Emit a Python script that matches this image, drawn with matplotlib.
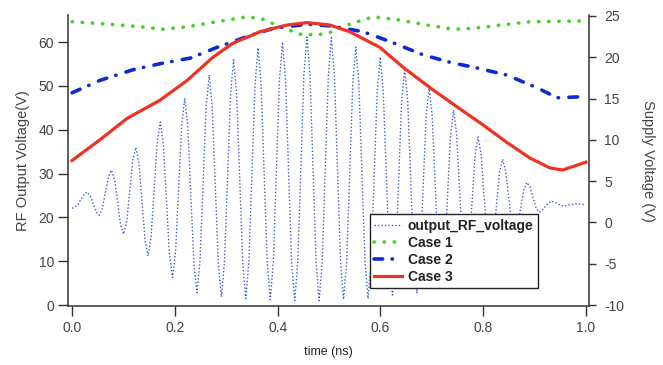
import numpy as np
import matplotlib
matplotlib.use("Agg")
import matplotlib.pyplot as plt

plt.rcParams["font.family"] = ["Liberation Sans", "DejaVu Sans"]
plt.rcParams["axes.unicode_minus"] = False

# RF output voltage (left axis), sampled waveform
rf_t_start = 0.0052
rf_dt = 0.005945
rf_v = [22.1,
        22.4, 22.9, 24.1, 25.3, 25.8, 25.0, 23.2, 21.3,
        20.5, 22.0, 25.7, 29.3, 30.8, 28.7, 23.5, 18.3,
        16.2, 19.1, 26.1, 33.1, 36.0, 32.4, 23.6, 14.8,
        11.2, 15.7, 26.5, 37.3, 41.8, 36.6, 24.1, 11.5,
        6.3, 12.3, 26.8, 41.2, 47.2, 40.7, 25.0, 9.3,
        2.8, 10.1, 27.7, 45.2, 52.5, 45.1, 27.2, 9.3,
        1.9, 9.8, 29.0, 48.1, 56.0, 48.0, 28.8, 9.5,
        1.5, 9.9, 30.1, 50.3, 58.7, 50.3, 30.0, 9.6,
        1.2, 9.8, 30.6, 51.4, 60.0, 51.4, 30.5, 9.6,
        1.0, 9.8, 31.1, 52.4, 61.2, 52.4, 31.1, 9.8,
        1.0, 9.8, 31.0, 52.2, 61.0, 52.3, 31.2, 10.0,
        1.3, 9.7, 30.1, 50.5, 58.9, 50.5, 30.2, 9.9,
        1.5, 9.5, 29.1, 48.6, 56.6, 48.7, 29.5, 10.2,
        2.3, 9.8, 28.2, 46.5, 54.0, 46.5, 28.4, 10.2,
        2.7, 9.6, 26.3, 42.9, 49.8, 43.2, 27.2, 11.1,
        4.5, 10.3, 24.5, 38.7, 44.5, 39.1, 26.0, 12.9,
        7.5, 12.0, 23.0, 33.9, 38.4, 34.5, 25.0, 15.4,
        11.5, 14.7, 22.4, 30.1, 33.3, 30.8, 24.9, 19.0,
        16.5, 18.2, 22.3, 26.3, 28.0, 27.0, 24.6, 22.2,
        21.2, 21.6, 22.5, 23.3, 23.7, 23.5, 23.2, 22.8,
        22.6, 22.7, 22.9, 23.0, 23.1, 23.1, 23.0, 22.9]
rf_t = np.concatenate([[0.0], rf_t_start + rf_dt * np.arange(len(rf_v) - 1)])

# supply voltage cases (right axis)
case1_t = [0, 0.074, 0.132, 0.177, 0.224, 0.282, 0.34, 0.372, 0.405, 0.444, 0.477,
           0.502, 0.535, 0.586, 0.638, 0.691, 0.741, 0.78, 0.833, 0.891, 1.0]
case1_v = [24.3, 24.0, 23.7, 23.4, 23.7, 24.3, 24.9, 24.6, 23.7, 22.8, 22.7,
           23.0, 23.9, 24.9, 24.5, 23.9, 23.4, 23.5, 23.9, 24.3, 24.4]

case2_t = [0, 0.054, 0.119, 0.177, 0.23, 0.282, 0.34, 0.391, 0.457, 0.502, 0.566,
           0.619, 0.683, 0.735, 0.788, 0.846, 0.905, 0.944, 0.984]
case2_v = [15.7, 17.2, 18.5, 19.3, 19.9, 21.2, 22.5, 23.5, 24.0, 23.8, 23.1,
           21.9, 20.3, 19.4, 18.7, 17.85, 16.3, 15.1, 15.2]

case3_t = [0, 0.054, 0.107, 0.171, 0.224, 0.274, 0.313, 0.366, 0.418, 0.457, 0.502,
           0.54, 0.599, 0.644, 0.697, 0.749, 0.80, 0.846, 0.891, 0.93, 0.955, 1.0]
case3_v = [7.5, 10.0, 12.6, 14.8, 17.2, 20.0, 21.7, 23.1, 23.9, 24.2, 23.9,
           23.1, 21.2, 18.8, 16.3, 14.0, 11.8, 9.7, 7.8, 6.6, 6.35, 7.3]

left_ticks = [0, 10, 20, 30, 40, 50, 60]
right_ticks = [-10, -5, 0, 5, 10, 15, 20, 25]
x_ticks = [0.0, 0.2, 0.4, 0.6, 0.8, 1.0]

spine_col = "#333333"
text_col = "#444444"

fig = plt.figure(figsize=(6.63, 3.65), dpi=100)
ax = fig.add_axes([68 / 663, 59 / 365, 521 / 663, 291 / 365])
ax2 = ax.twinx()

rf_line, = ax.plot(rf_t, rf_v, color="#3f55ee", lw=1.0, ls=(0, (1, 1.5)),
                   label="output_RF_voltage")
l1, = ax2.plot(case1_t, case1_v, color="#44d522", lw=2.6, ls=(0, (0.1, 2.7)),
               dash_capstyle="round", solid_capstyle="round", label="Case 1")
l2, = ax2.plot(case2_t, case2_v, color="#0c2bd6", lw=2.6, ls=(0, (2.4, 2.6, 0.1, 2.9)),
               dash_capstyle="round", label="Case 2")
l3, = ax2.plot(case3_t, case3_v, color="#ee3322", lw=2.3, label="Case 3")

ax.set_xlim(-0.008, 1.006)
ax.set_ylim(-0.2, 66.2)
ax2.set_ylim(-10.12, 25.12)

ax.set_xticks(x_ticks)
ax.set_xticklabels([f"{v:.1f}" for v in x_ticks])
ax.set_yticks(left_ticks)
ax2.set_yticks(right_ticks)

for a in (ax, ax2):
    a.spines["top"].set_visible(False)
    for s in a.spines.values():
        s.set_color(spine_col)
        s.set_linewidth(1.1)
ax.spines["right"].set_visible(False)
ax2.spines["left"].set_visible(False)
ax2.spines["bottom"].set_visible(False)

ax.tick_params(axis="x", direction="out", length=7, width=1, color=spine_col,
               labelsize=10, labelcolor=text_col, pad=4)
ax.tick_params(axis="y", direction="out", length=7, width=1, color=spine_col,
               labelsize=10, labelcolor=text_col, pad=3)
ax2.tick_params(axis="y", direction="out", length=5, width=1, color=spine_col,
                labelsize=10, labelcolor=text_col, pad=6)

ax.set_xlabel("time (ns)", fontsize=9, color="#222222", labelpad=8)
ax.set_ylabel("RF Output Voltage(V)", fontsize=10.5, color=text_col, labelpad=6)
ax2.set_ylabel("Supply Voltage (V)", fontsize=10.5, color=text_col, rotation=270,
               labelpad=22)

leg = ax2.legend(handles=[rf_line, l1, l2, l3], loc="lower left",
                 bbox_to_anchor=(0.58, 0.062), borderaxespad=0,
                 prop={"weight": "bold", "size": 10}, frameon=True, fancybox=False,
                 framealpha=1, edgecolor="#222222", handlelength=2.0,
                 handletextpad=0.4, labelspacing=0.22, borderpad=0.3)
leg.get_frame().set_linewidth(1.0)
for t in leg.get_texts():
    t.set_color("#222222")

fig.savefig("out.png", dpi=100)
